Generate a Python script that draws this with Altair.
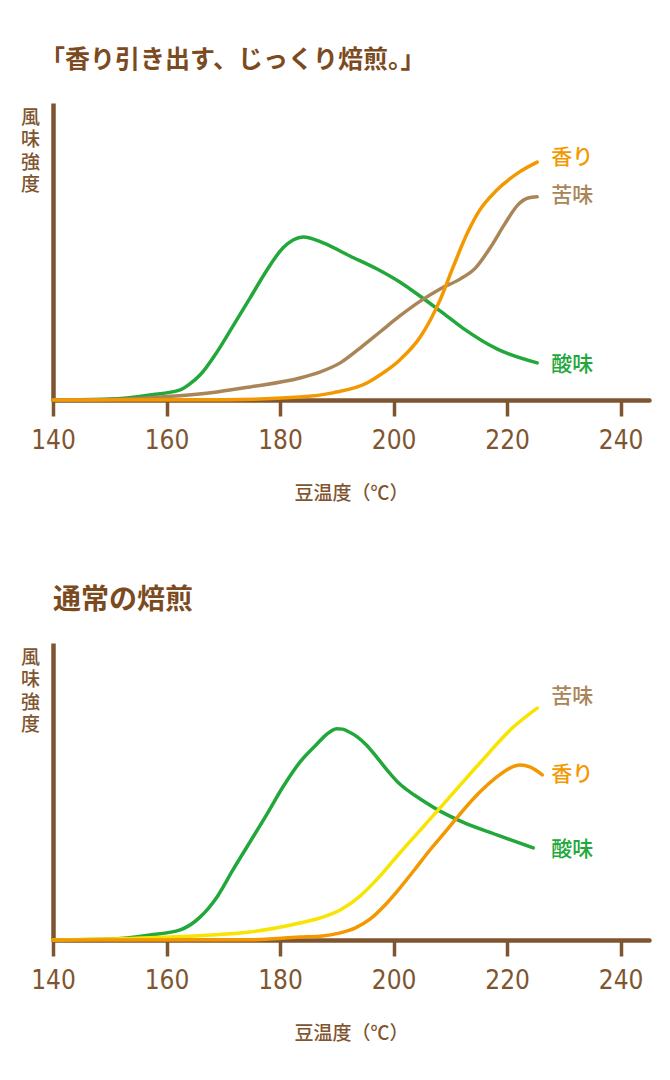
import altair as alt
import pandas as pd

# ---------------- data ----------------
series_order = ["香り", "苦味", "酸味"]

# Panel 1: 「香り引き出す、じっくり焙煎。」
p1_acid_t = [140, 150, 157.1, 162.4, 164.1, 165.9, 168.9, 171.7, 174.7, 177.7, 180.5, 182.3, 184.1,
             187.6, 192.3, 197.1, 201.1, 203.4, 208.2, 212.2, 218.2, 225.3]
p1_acid_v = [0, 0.3, 1.7, 3.4, 5.4, 8.4, 16.2, 24.9, 34.3, 43.8, 51.2, 53.9, 54.9,
             52.9, 48.5, 44.1, 39.7, 36.7, 30.0, 24.2, 17.2, 12.5]
p1_bitter_t = [140, 150, 157.1, 168.9, 174.7, 183.5, 187.0, 190.6, 194.1, 197.6, 201.1, 204.7,
               208.2, 211.7, 214.4, 217.0, 219.6, 221.9, 223.7, 225.3]
p1_bitter_v = [0, 0.2, 0.8, 2.7, 4.4, 7.4, 9.4, 12.5, 17.5, 22.9, 28.3, 33.3,
               37.4, 40.7, 44.4, 51.2, 59.3, 65.7, 68.0, 68.4]
p1_aroma_t = [140, 170, 183.5, 189.3, 195.3, 197.6, 201.1, 204.7, 208.2, 210.5, 213.0, 215.2,
              218.2, 222.2, 225.3]
p1_aroma_v = [0, 0.1, 1.0, 2.4, 5.7, 8.4, 13.5, 21.2, 33.7, 44.8, 56.2, 64.0,
              70.7, 76.8, 80.1]
p1_label_names = ["香り", "苦味", "酸味"]
p1_label_t = [227.8, 227.8, 227.8]
p1_label_v = [81.5, 68.7, 11.8]

# Panel 2: 通常の焙煎
p2_acid_t = [140, 150, 157.1, 162.4, 165.9, 168.9, 171.7, 174.7, 177.7, 180.5, 183.5, 186.5,
             188.3, 189.2, 190.0, 191.0, 192.0, 193.6, 195.3, 197.1, 199.4, 201.1, 202.9,
             204.7, 208.2, 212.2, 218.2, 224.6]
p2_acid_v = [0, 0.3, 1.7, 3.4, 7.7, 14.5, 23.6, 33.0, 42.4, 51.5, 59.9, 66.0,
             69.4, 70.6, 71.1, 71.0, 70.2, 68.4, 65.5, 61.4, 56.0, 52.5, 49.8,
             47.5, 43.4, 39.7, 35.4, 31.0]
p2_bitter_t = [140, 157.1, 174.7, 183.5, 187.0, 190.6, 194.1, 197.6, 201.1, 204.7, 209.4,
               215.2, 221.1, 225.3]
p2_bitter_v = [0, 0.8, 2.7, 5.7, 7.4, 10.1, 14.8, 21.5, 29.3, 37.0, 47.1,
               59.6, 71.7, 78.1]
p2_aroma_t = [140, 175, 183.5, 187.0, 190.6, 193.2, 195.9, 198.5, 201.1, 203.8, 206.4, 209.1,
              211.7, 215.2, 218.2, 220.5, 222.3, 224.1, 226.2]
p2_aroma_v = [0, 0.1, 1.0, 1.3, 2.4, 4.0, 7.1, 11.8, 17.5, 23.9, 30.3, 36.4,
              42.4, 49.8, 54.9, 57.9, 58.9, 58.2, 55.6]
p2_label_names = ["苦味", "香り", "酸味"]
p2_label_t = [227.8, 227.8, 227.8]
p2_label_v = [81.8, 55.6, 30.3]

x_ticks = [140, 160, 180, 200, 220, 240]

# ---------------- styling ----------------
BROWN = "#7f5530"
TITLE_BROWN = "#7b4a1e"
ORANGE = "#f39800"
TAN = "#a98557"
GREEN = "#22a83a"
YELLOW = "#f7e400"
CJK = "Noto Sans CJK JP"
NUM_FONT = "Liberation Sans Narrow, DejaVu Sans Condensed, Liberation Sans, sans-serif"

W, H = 596, 297


def lines_df(acid_t, acid_v, bitter_t, bitter_v, aroma_t, aroma_v):
    parts = []
    for name, ts, vs in (("酸味", acid_t, acid_v), ("苦味", bitter_t, bitter_v), ("香り", aroma_t, aroma_v)):
        parts.append(pd.DataFrame({"series": name, "temp": ts, "value": vs}))
    return pd.concat(parts, ignore_index=True)


def panel(title, title_size, title_offset, title_dx, df, labels, line_colors):
    x = alt.X("temp:Q",
              scale=alt.Scale(domain=[140, 245], nice=False, zero=False),
              axis=alt.Axis(values=x_ticks, title="豆温度（℃）", grid=False,
                            domainColor=BROWN, domainWidth=4.5, domainCap="round",
                            tickColor=BROWN, tickWidth=3.5, tickSize=16,
                            labelFont=NUM_FONT, labelFontSize=26, labelColor=BROWN,
                            labelPadding=11, labelFlush=False,
                            titleFont=CJK, titleFontSize=19, titleFontWeight=500,
                            titleColor=BROWN, titlePadding=31))
    y = alt.Y("value:Q",
              scale=alt.Scale(domain=[0, 100], nice=False),
              axis=alt.Axis(title=["風", "味", "強", "度"], grid=False, ticks=False,
                            labels=False, domainColor=BROWN, domainWidth=4.5,
                            titleFont=CJK, titleFontSize=19, titleFontWeight=500,
                            titleColor=BROWN, titleAngle=0, titleAlign="center",
                            titleBaseline="top", titleX=-23, titleY=5,
                            titleLineHeight=22.5))
    lines = alt.Chart(df).mark_line(interpolate="monotone", strokeWidth=3.5,
                                    strokeCap="round").encode(
        x=x, y=y,
        stroke=alt.Stroke("series:N",
                          scale=alt.Scale(domain=series_order, range=line_colors),
                          legend=None),
        detail="series:N",
    )
    text = alt.Chart(labels).mark_text(align="left", baseline="middle", font=CJK,
                                       fontSize=21, fontWeight=500).encode(
        x="temp:Q", y="value:Q", text="series:N",
        fill=alt.Fill("series:N",
                      scale=alt.Scale(domain=series_order, range=[ORANGE, TAN, GREEN]),
                      legend=None),
    )
    return alt.layer(lines, text).properties(
        width=W, height=H,
        title=alt.TitleParams(title, anchor="start", frame="group", font=CJK,
                              fontSize=title_size, fontWeight="bold", color=TITLE_BROWN,
                              baseline="bottom", offset=title_offset, dx=title_dx),
    )


df1 = lines_df(p1_acid_t, p1_acid_v, p1_bitter_t, p1_bitter_v, p1_aroma_t, p1_aroma_v)
df2 = lines_df(p2_acid_t, p2_acid_v, p2_bitter_t, p2_bitter_v, p2_aroma_t, p2_aroma_v)
lab1 = pd.DataFrame({"series": p1_label_names, "temp": p1_label_t, "value": p1_label_v})
lab2 = pd.DataFrame({"series": p2_label_names, "temp": p2_label_t, "value": p2_label_v})

top = panel("「香り引き出す、じっくり焙煎。」", 25, 5, -13, df1, lab1, [ORANGE, TAN, GREEN])
bottom = panel("通常の焙煎", 28, 0, 0, df2, lab2, [ORANGE, YELLOW, GREEN])

chart = alt.vconcat(top, bottom, spacing=84).resolve_scale(
    stroke="independent", fill="independent", x="independent", y="independent"
).properties(
    padding={"left": 20, "top": 48, "right": 5, "bottom": 5},
    background="white",
).configure_view(stroke=None)

chart.save("out.html", embed_options={"renderer": "svg", "actions": False})
